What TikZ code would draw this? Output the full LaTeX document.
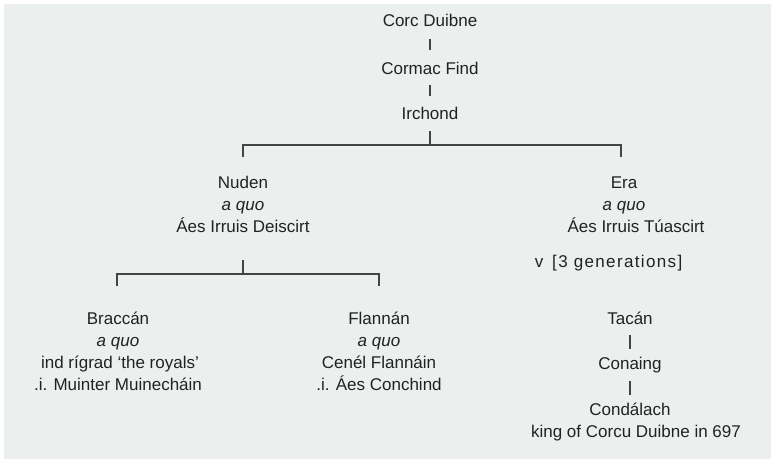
\documentclass[tikz,border=0pt]{standalone}
\usepackage{fontspec}
\setmainfont{Liberation Sans}
\definecolor{bg}{HTML}{EBEFEE}
\definecolor{ink}{HTML}{222222}
\definecolor{rule}{HTML}{444444}
\begin{document}
\begin{tikzpicture}[x=1pt,y=-1pt,
  txt/.style={anchor=base, inner sep=0pt, text=ink, font=\fontsize{17}{20}\selectfont},
  itx/.style={txt, font=\fontsize{17}{20}\selectfont\itshape},
  link/.style={draw=rule, line width=1.4pt, line join=miter}]
\fill[white] (0,0) rectangle (771,459);
\fill[bg] (4,4) rectangle (771,459);
\useasboundingbox (0,0) rectangle (771,459);
% top line
\node[txt] (corc) at (430,26) {Corc Duibne};
\node[txt] (cormac) at (430,74) {Cormac Find};
\node[txt] (irchond) at (430,119) {Irchond};
% Nuden
\node[txt] (nuden) at (243,188) {Nuden};
\node[itx] (nudenq) at (243,210) {a quo};
\node[txt] (nudenp) at (243,232) {Áes Irruis Deiscirt};
% Era
\node[txt] (era) at (624,188) {Era};
\node[itx] (eraq) at (624,210) {a quo};
\node[txt] (erap) at (636,232) {Áes Irruis Túascirt};
\node[txt] (genv) at (539,267) {v};
\node[txt, anchor=base west] (gen) at (552,267) {\addfontfeature{LetterSpace=8}[3 generations]};
% Braccán
\node[txt] (braccan) at (118,324) {Braccán};
\node[itx] (braccanq) at (118,346) {a quo};
\node[txt] (braccanp) at (120,368) {ind rígrad ‘the royals’};
\node[txt] (braccanm) at (118,390) {.i. Muinter Muinecháin};
% Flannán
\node[txt] (flannan) at (379,324) {Flannán};
\node[itx] (flannanq) at (379,346) {a quo};
\node[txt] (flannanp) at (379,368) {Cenél Flannáin};
\node[txt] (flannanm) at (379,390) {.i. Áes Conchind};
% Tacán line
\node[txt] (tacan) at (630,324) {Tacán};
\node[txt] (conaing) at (630,369) {Conaing};
\node[txt] (condalach) at (630,415) {Condálach};
\node[txt] (king) at (636,437) {king of Corcu Duibne in 697};
% connectors
\draw[link] ([yshift=-13pt]corc.base) -- ([yshift=24pt]cormac.base);
\draw[link] ([yshift=-11pt]cormac.base) -- ([yshift=23pt]irchond.base);
\coordinate (j1) at (430,145);
\draw[link] ([yshift=-12pt]irchond.base) -- (j1);
\draw[link] ([yshift=31pt]nuden.base) -- ([yshift=43pt]nuden.base)
  -- ([yshift=43pt,xshift=-3pt]era.base) -- ([yshift=31pt,xshift=-3pt]era.base);
\coordinate (j2) at (243,274);
\draw[link] ([yshift=-28pt]nudenp.base) -- (j2);
\draw[link] ([yshift=38pt,xshift=-1pt]braccan.base) -- ([yshift=50pt,xshift=-1pt]braccan.base)
  -- ([yshift=50pt]flannan.base) -- ([yshift=38pt]flannan.base);
\draw[link] ([yshift=-11pt]tacan.base) -- ([yshift=20pt]conaing.base);
\draw[link] ([yshift=-12pt]conaing.base) -- ([yshift=20pt]condalach.base);
\end{tikzpicture}
\end{document}
